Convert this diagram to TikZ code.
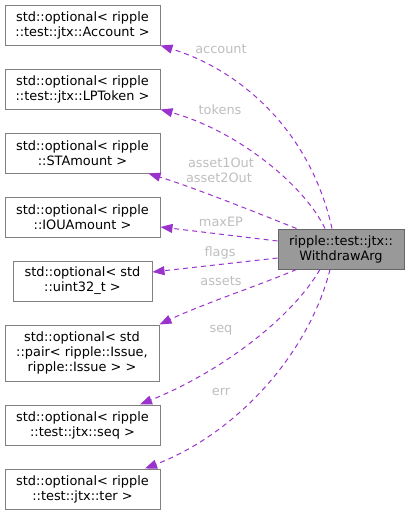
\documentclass[tikz,border=0pt]{standalone}
\usepackage{fontspec}
\setmainfont{DejaVu Sans}
\usetikzlibrary{arrows.meta}
\definecolor{edgec}{HTML}{9A32CD}
\definecolor{lblc}{HTML}{BEBEBE}
\definecolor{bordc}{HTML}{808080}
\definecolor{mainf}{HTML}{999999}
\definecolor{mainb}{HTML}{666666}
\begin{document}
\begin{tikzpicture}[x=1pt,y=-1pt,
  box/.style={draw=bordc, line width=1pt, fill=white, minimum width=155pt, minimum height=40pt, inner sep=0pt, align=center, font=\fontsize{12.9}{15}\selectfont},
  mainbox/.style={box, fill=mainf, draw=mainb, minimum width=126pt},
  use/.style={draw=edgec, line width=1pt, dash pattern=on 5pt off 4pt, -{Triangle[length=12pt,width=9pt]}},
  lbl/.style={text=lblc, inner sep=0pt, font=\fontsize{12.9}{15}\selectfont}]
\useasboundingbox (0,0) rectangle (409,515);
\node[box] (acc) at (82.5,25) {std::optional< ripple\\::test::jtx::Account >};
\node[box] (tok) at (82.5,89) {std::optional< ripple\\::test::jtx::LPToken >};
\node[box] (sta) at (82.5,153) {std::optional< ripple\\::STAmount >};
\node[box] (iou) at (82.5,217) {std::optional< ripple\\::IOUAmount >};
\node[box, minimum width=139pt] (u32) at (82.5,281) {std::optional< std\\::uint32\_t >};
\node[box, minimum width=154pt, minimum height=56pt] (pair) at (82,353) {std::optional< std\\::pair< ripple::Issue,\\ripple::Issue > >};
\node[box] (seq) at (82.5,425) {std::optional< ripple\\::test::jtx::seq >};
\node[box] (ter) at (82.5,489) {std::optional< ripple\\::test::jtx::ter >};
\node[mainbox] (main) at (341,249) {ripple::test::jtx::\\WithdrawArg};

\draw[use] ([xshift=-9pt]main.north) .. controls (310,130) and (240,70) .. (acc.south east);
\draw[use] ([xshift=-16pt]main.north) .. controls (303,183) and (235,130) .. (tok.south east);
\draw[use] ([xshift=19pt]main.north west) .. controls (255,212) and (195,188) .. ([xshift=-12pt]sta.south east);
\draw[use] ([yshift=8pt]main.west) -- ([yshift=-10pt]iou.east);
\draw[use] ([yshift=-9pt]main.west) -- ([yshift=9pt]u32.east);
\draw[use] ([xshift=19pt]main.south west) .. controls (260,285) and (200,305) .. (pair.north east);
\draw[use] ([xshift=-21pt]main.south) .. controls (290,320) and (220,372) .. ([xshift=57.5pt]seq.north);
\draw[use] ([xshift=-11pt]main.south) .. controls (310,350) and (240,432) .. ([xshift=62.5pt]ter.north);

\node[lbl] (l1) at (221,49) {account};
\node[lbl] (l2) at (220,110) {tokens};
\node[lbl] (l3) at (221,163) {asset1Out};
\node[lbl] (l4) at (219,178) {asset2Out};
\node[lbl] (l5) at (221,222) {maxEP};
\node[lbl] (l6) at (220,253) {flags};
\node[lbl] (l7) at (221,281) {assets};
\node[lbl] (l8) at (221,330) {seq};
\node[lbl] (l9) at (221,392) {err};
\end{tikzpicture}
\end{document}
